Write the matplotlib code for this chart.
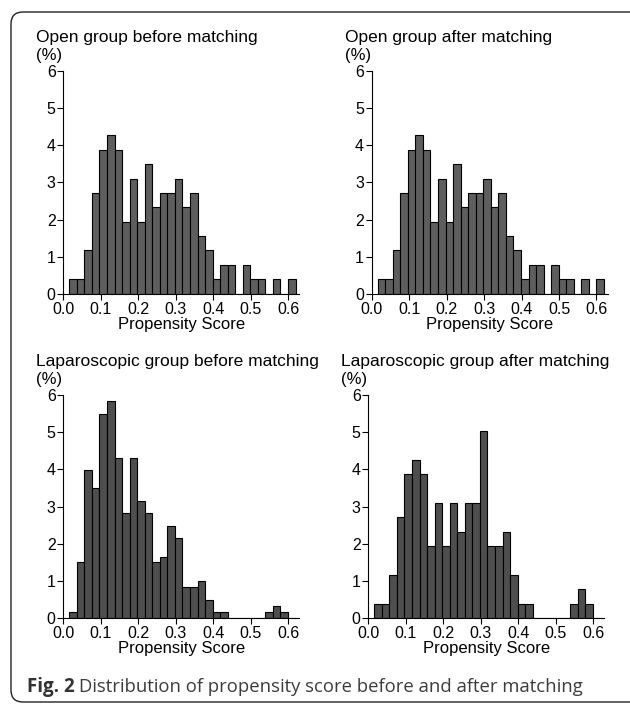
import numpy as np
import matplotlib
matplotlib.use('Agg')
import matplotlib.pyplot as plt
from matplotlib.patches import FancyBboxPatch
from matplotlib.transforms import IdentityTransform

# bins of the propensity score (30 bins, ~0.02 wide)
bin_edges = np.linspace(0.016, 0.620, 31)

# heights in %
open_before = [0.39, 0.39, 1.17, 2.72, 3.88, 4.26, 3.88, 1.94, 3.10, 1.94,
               3.49, 2.33, 2.72, 2.72, 3.10, 2.33, 2.72, 1.55, 1.17, 0.39,
               0.78, 0.78, 0, 0.78, 0.39, 0.39, 0, 0.39, 0, 0.39]
open_after = [0.39, 0.39, 1.17, 2.72, 3.88, 4.26, 3.88, 1.94, 3.10, 1.94,
              3.49, 2.33, 2.72, 2.72, 3.10, 2.33, 2.72, 1.55, 1.17, 0.39,
              0.78, 0.78, 0, 0.78, 0.39, 0.39, 0, 0.39, 0, 0.39]
lap_before = [0.17, 1.50, 3.99, 3.49, 5.50, 5.83, 4.32, 2.82, 4.32, 3.16,
              2.82, 1.50, 1.66, 2.49, 2.16, 0.83, 0.83, 1.00, 0.50, 0.17,
              0.17, 0, 0, 0, 0, 0, 0.17, 0.33, 0.17, 0]
lap_after = [0.39, 0.39, 1.17, 2.72, 3.88, 4.26, 3.88, 1.94, 3.10, 1.94,
             3.10, 2.33, 3.10, 3.10, 5.04, 1.94, 1.94, 2.33, 1.17, 0.39,
             0.39, 0, 0, 0, 0, 0, 0.39, 0.78, 0.39, 0]

titles = ['Open group before matching', 'Open group after matching',
          'Laparoscopic group before matching', 'Laparoscopic group after matching']
series = [open_before, open_after, lap_before, lap_after]
bar_colors = ['#5e5e5e', '#5e5e5e', '#4e4e4e', '#4e4e4e']
xticks = [0.0, 0.1, 0.2, 0.3, 0.4, 0.5, 0.6]
xtick_labels = ['0.0', '0.1', '0.2', '0.3', '0.4', '0.5', '0.6']
yticks = [0, 1, 2, 3, 4, 5, 6]

plt.rcParams['font.family'] = ['Liberation Sans', 'DejaVu Sans']

W, H = 630, 704
fig = plt.figure(figsize=(W / 100, H / 100), dpi=100)

# axes boxes in pixels: left, top (y=6), width, height
boxes = [(63.3, 70.7), (371.7, 70.7), (63.3, 395.0), (368.3, 395.0)]
aw, ah = 236.0, 223.3

for (lx, ty), title, vals, col in zip(boxes, titles, series, bar_colors):
    ax = fig.add_axes([lx / W, 1 - (ty + ah) / H, aw / W, ah / H])
    ax.bar(bin_edges[:-1], vals, width=np.diff(bin_edges), align='edge',
           color=col, edgecolor='black', linewidth=0.8)
    ax.set_xlim(0, 0.63)
    ax.set_ylim(0, 6)
    ax.spines['top'].set_visible(False)
    ax.spines['right'].set_visible(False)
    ax.set_xticks(xticks)
    ax.set_xticklabels(xtick_labels)
    ax.set_yticks(yticks)
    ax.tick_params(direction='out', length=4, width=0.8, labelsize=11.5, pad=1.5)
    ax.set_xlabel('Propensity Score', fontsize=12, labelpad=0)
    fig.text((lx - 27) / W, 1 - (ty - 29) / H, title, fontsize=12.5, va='baseline')
    fig.text((lx - 27) / W, 1 - (ty - 11) / H, '(%)', fontsize=12, va='baseline')

# rounded frame around the figure, in pixels (right side runs off the picture)
frame = FancyBboxPatch((11, H - 702), 650 - 11, 702 - 12,
                       boxstyle='round,pad=0,rounding_size=12',
                       transform=IdentityTransform(), facecolor='none',
                       edgecolor='#222222', linewidth=1.0)
fig.patches.append(frame)

# caption
cap1 = fig.text(27 / W, 1 - 692 / H, 'Fig. 2', fontsize=13.5, fontweight='bold',
                family='Open Sans', color='#333333', va='baseline')
r = fig.canvas.get_renderer()
bb = cap1.get_window_extent(renderer=r)
fig.text((bb.x1 + 4) / W, 1 - 692 / H,
         'Distribution of propensity score before and after matching',
         fontsize=13.3, family='Open Sans', color='#3c3c3c', va='baseline')

fig.savefig('out.png', dpi=100)
